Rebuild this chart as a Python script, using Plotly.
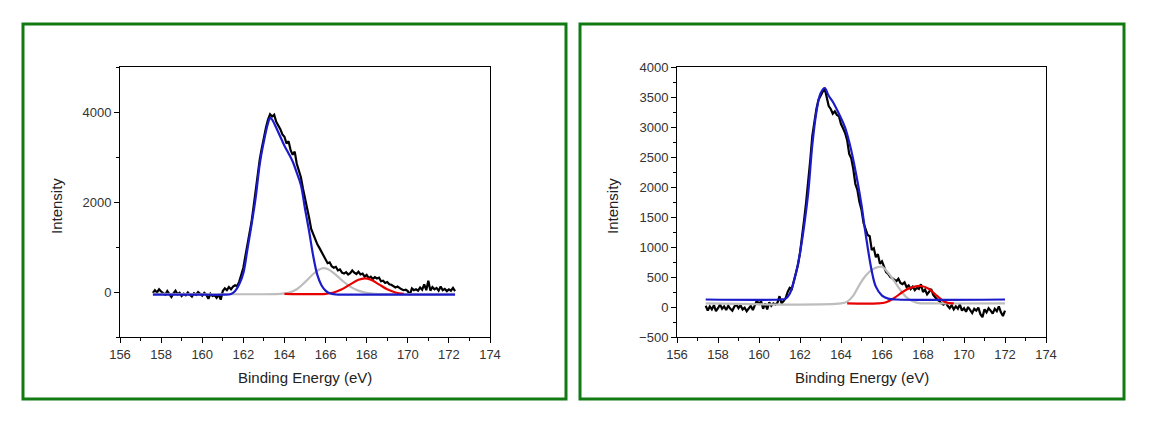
import plotly.graph_objects as go

# ---------------- Left panel data ----------------
left_start, left_step = 157.6, 0.1
left_black = [
    -20, 40, -10, 60, 10, -30, -60, 20, -40, -110,      # 157.6-158.5
    -30, 30, -50, -20, -90, -40, -70, -10, -60, -100,   # 158.6-159.5
    -30, -60, 0, -50, -80, -20, -60, -150, -40, -90,    # 159.6-160.5
    -70, -130, -60, -170, 20, 80, 40, 110, 60, 120,     # 160.6-161.5
    150, 130, 230, 380, 540, 800, 1050, 1300, 1560, 1900,  # 161.6-162.5
    2250, 2650, 2950, 3200, 3450, 3650, 3830, 3950, 3900, 3940,  # 162.6-163.5
    3780, 3700, 3620, 3500, 3450, 3300, 3350, 3150, 3050, 3120,  # 163.6-164.5
    2850, 2700, 2550, 2300, 2100, 1850, 1650, 1400, 1280, 1150,  # 164.6-165.5
    1060, 980, 900, 800, 740, 640, 660, 570, 540, 560,   # 165.6-166.5
    480, 500, 430, 410, 440, 390, 420, 480, 430, 400,    # 166.6-167.5
    450, 390, 410, 340, 380, 310, 340, 290, 330, 300,    # 167.6-168.5
    320, 240, 250, 200, 220, 170, 160, 130, 100, 120,    # 168.6-169.5
    80, 60, 40, 50, 20, -60, 80, 40, 60, 30,             # 169.6-170.5
    100, 50, 170, 40, 250, 30, 110, 60, 90, 30,          # 170.6-171.5
    120, 40, 70, 20, 60, 30, 90, 20,                     # 171.6-172.3
]
left_blue_x = [157.6, 160.0, 161.0, 161.4, 161.6, 161.8, 162.0, 162.2, 162.4, 162.6,
               162.8, 163.0, 163.2, 163.3, 163.4, 163.6, 163.8, 164.0, 164.2, 164.4,
               164.6, 164.8, 165.0, 165.2, 165.4, 165.6, 165.8, 166.0, 166.2, 166.5,
               167.0, 172.3]
left_blue_y = [-60, -60, -60, -45, 20, 170, 420, 950, 1500, 2100,
               2850, 3350, 3750, 3870, 3830, 3650, 3450, 3250, 3080, 2900,
               2650, 2380, 1850, 1350, 800, 380, 150, 30, -30, -55,
               -60, -60]
left_gray_x = [157.6, 163.8, 164.2, 164.6, 165.0, 165.4, 165.7, 165.9, 166.1, 166.4,
               166.8, 167.2, 167.6, 168.0, 168.4, 172.3]
left_gray_y = [-40, -40, -20, 60, 220, 400, 500, 530, 510, 420,
               260, 120, 30, -20, -40, -40]
left_red_x = [164.0, 166.0, 166.4, 166.8, 167.2, 167.6, 167.9, 168.2, 168.6, 169.0,
              169.4, 169.8]
left_red_y = [-40, -40, -10, 60, 170, 270, 305, 275, 170, 60, -10, -40]

# ---------------- Right panel data ----------------
right_start, right_step = 157.4, 0.1
right_black = [
    20, -60, 10, -40, 30, -70, -20, 40, -30, 10,         # 157.4-158.3
    -50, 20, -30, -60, 10, 40, -20, 30, -40, -10,        # 158.4-159.3
    -70, -20, 20, -50, 30, 110, 40, 100, -30, 60,        # 159.4-160.3
    -40, 80, 20, 60, 40, 70, 180, 60, 100, 150,          # 160.4-161.3
    250, 320, 300, 420, 560, 700, 900, 1150, 1450, 1750, # 161.4-162.3
    2050, 2450, 2850, 3100, 3300, 3450, 3520, 3600, 3650, 3500,  # 162.4-163.3
    3350, 3300, 3220, 3260, 3200, 3180, 3050, 2980, 2900, 2780,  # 163.4-164.3
    2550, 2480, 2300, 2050, 1950, 1750, 1620, 1400, 1300, 1200,  # 164.4-165.3
    1180, 950, 980, 830, 880, 720, 760, 650, 580, 550,   # 165.4-166.3
    500, 480, 450, 430, 470, 400, 380, 410, 330, 360,    # 166.4-167.3
    300, 340, 280, 320, 300, 380, 250, 290, 210, 260,    # 167.4-168.3
    300, 200, 160, 120, 100, 60, 40, 80, 20, -20,        # 168.4-169.3
    30, -40, 10, -30, 40, -60, -20, -80, 0, -50,         # 169.4-170.3
    -100, -30, -60, -10, -120, -170, -40, -90, -20, -60, # 170.4-171.3
    -110, -30, -70, 10, -90, -150, -60,                  # 171.4-172.0
]
right_blue_x = [157.4, 161.0, 161.3, 161.5, 161.8, 162.0, 162.2, 162.4, 162.6, 162.8,
                163.0, 163.2, 163.4, 163.6, 163.9, 164.2, 164.5, 164.8, 165.0, 165.2,
                165.5, 165.7, 166.0, 166.3, 166.7, 172.0]
right_blue_y = [125, 125, 140, 220, 560, 900, 1350, 1900, 2700, 3250,
                3560, 3650, 3520, 3420, 3220, 2990, 2610, 2100, 1700, 1220,
                600, 340, 190, 140, 125, 125]
right_gray_x = [157.4, 164.0, 164.3, 164.6, 164.9, 165.2, 165.5, 165.8, 166.0, 166.3,
                166.6, 166.9, 167.2, 167.5, 167.8, 168.2, 172.0]
right_gray_y = [60, 60, 90, 190, 370, 520, 620, 665, 670, 570,
                430, 280, 160, 95, 65, 60, 60]
right_red_x = [164.3, 165.8, 166.2, 166.6, 167.0, 167.4, 167.9, 168.3, 168.7, 169.1, 169.5]
right_red_y = [60, 60, 80, 150, 250, 320, 350, 300, 180, 80, 60]

# ---------------- Axis settings ----------------
x_range = [156, 174]
x_ticks = [156, 158, 160, 162, 164, 166, 168, 170, 172, 174]
left_y_range = [-1000, 5000]
left_y_ticks = [0, 2000, 4000]
right_y_range = [-500, 4000]
right_y_ticks = [-500, 0, 500, 1000, 1500, 2000, 2500, 3000, 3500, 4000]
top_mirror_ticks = [157.8, 159.6, 161.4, 163.2, 165.0, 166.8, 168.6, 170.4, 172.2]
left_mirror_yticks = [-400, 200, 800, 1400, 2000, 2600, 3200, 3800, 4400]
right_mirror_yticks = [-50, 400, 850, 1300, 1750, 2200, 2650, 3100, 3550]

W, H = 1150, 422


def px(x):
    return x / W


def py(y):
    return (H - y) / H


BLACK, BLUE, RED, GRAY = "#000000", "#1b1bc9", "#e60000", "#bdbdbd"
FONT = "Arial, Liberation Sans, sans-serif"


def xs(start, step, n):
    return [round(start + step * i, 2) for i in range(n)]


fig = go.Figure()


def add_panel(xa, ya, bx, by, blue_x, blue_y, red_x, red_y, gray_x, gray_y):
    fig.add_trace(go.Scatter(x=bx, y=by, mode="lines", line=dict(color=BLACK, width=2.2),
                             xaxis=xa, yaxis=ya, showlegend=False, hoverinfo="skip"))
    fig.add_trace(go.Scatter(x=gray_x, y=gray_y, mode="lines", line=dict(color=GRAY, width=2.2, shape="spline"),
                             xaxis=xa, yaxis=ya, showlegend=False, hoverinfo="skip"))
    fig.add_trace(go.Scatter(x=red_x, y=red_y, mode="lines", line=dict(color=RED, width=2.2, shape="spline"),
                             xaxis=xa, yaxis=ya, showlegend=False, hoverinfo="skip"))
    fig.add_trace(go.Scatter(x=blue_x, y=blue_y, mode="lines", line=dict(color=BLUE, width=2.2, shape="spline"),
                             xaxis=xa, yaxis=ya, showlegend=False, hoverinfo="skip"))


add_panel("x", "y", xs(left_start, left_step, len(left_black)), left_black,
          left_blue_x, left_blue_y, left_red_x, left_red_y, left_gray_x, left_gray_y)
add_panel("x2", "y2", xs(right_start, right_step, len(right_black)), right_black,
          right_blue_x, right_blue_y, right_red_x, right_red_y, right_gray_x, right_gray_y)

# plot area boxes in window pixels
L = dict(x0=120, x1=490)
R = dict(x0=677, x1=1046)
Y0, Y1 = 337, 67
ydom = [py(Y0), py(Y1)]

tickfont = dict(family=FONT, size=13, color="#333333")
common_x = dict(range=x_range, tickvals=x_ticks, ticks="outside", ticklen=5, tickwidth=1,
                tickcolor="black", showline=True, linecolor="black", linewidth=1, mirror=True,
                showgrid=False, zeroline=False, tickfont=tickfont, automargin=False,
                minor=dict(dtick=1, tick0=156, ticks="outside", ticklen=3, tickcolor="black"))
common_y = dict(ticks="outside", ticklen=5, tickwidth=1, tickcolor="black", showline=True,
                linecolor="black", linewidth=1, mirror=True, showgrid=False, zeroline=False,
                tickfont=tickfont, automargin=False)

layout = dict(
    width=W, height=H, autosize=False,
    margin=dict(l=0, r=0, t=0, b=0, pad=0, autoexpand=False),
    paper_bgcolor="white", plot_bgcolor="white", showlegend=False,
    xaxis=dict(domain=[px(L["x0"]), px(L["x1"])], anchor="y", **common_x),
    yaxis=dict(domain=ydom, anchor="x", range=left_y_range, tickvals=left_y_ticks,
               minor=dict(dtick=1000, tick0=0, ticks="outside", ticklen=3, tickcolor="black"),
               **common_y),
    xaxis2=dict(domain=[px(R["x0"]), px(R["x1"])], anchor="y2", **common_x),
    yaxis2=dict(domain=ydom, anchor="x2", range=right_y_range, tickvals=right_y_ticks,
                minor=dict(dtick=250, tick0=0, ticks="outside", ticklen=3, tickcolor="black"),
                **common_y),
)
# mirrored inside ticks (top and right), as in the reference
mirror_x = dict(range=x_range, tickvals=top_mirror_ticks, ticks="inside", ticklen=4,
                tickcolor="black", showticklabels=False, showgrid=False, zeroline=False,
                showline=False, side="top", automargin=False)
mirror_y = dict(ticks="inside", ticklen=4, tickcolor="black", showticklabels=False,
                showgrid=False, zeroline=False, showline=False, side="right", automargin=False)
layout["xaxis3"] = dict(overlaying="x", anchor="y", **mirror_x)
layout["yaxis3"] = dict(overlaying="y", anchor="x", range=left_y_range,
                        tickvals=left_mirror_yticks, **mirror_y)
layout["xaxis4"] = dict(overlaying="x2", anchor="y2", **mirror_x)
layout["yaxis4"] = dict(overlaying="y2", anchor="x2", range=right_y_range,
                        tickvals=right_mirror_yticks, **mirror_y)
fig.update_layout(**layout)

# green panel frames
green = "#127a12"
for (x0, x1) in [(23, 566), (580, 1124)]:
    fig.add_shape(type="rect", xref="paper", yref="paper",
                  x0=px(x0), x1=px(x1), y0=py(399), y1=py(24),
                  line=dict(color=green, width=3), fillcolor="rgba(0,0,0,0)", layer="below")

# axis titles
titlefont = dict(family=FONT, size=15, color="#222222")
for cx, ix in [((L["x0"] + L["x1"]) / 2, 56), ((R["x0"] + R["x1"]) / 2, 612)]:
    fig.add_annotation(text="Binding Energy (eV)", xref="paper", yref="paper",
                       x=px(cx), y=py(377), showarrow=False, font=titlefont,
                       xanchor="center", yanchor="middle")
    fig.add_annotation(text="Intensity", xref="paper", yref="paper", textangle=-90,
                       x=px(ix), y=py(206), showarrow=False, font=titlefont,
                       xanchor="center", yanchor="middle")

fig.write_html("out.html", config={"responsive": False, "displayModeBar": False})
